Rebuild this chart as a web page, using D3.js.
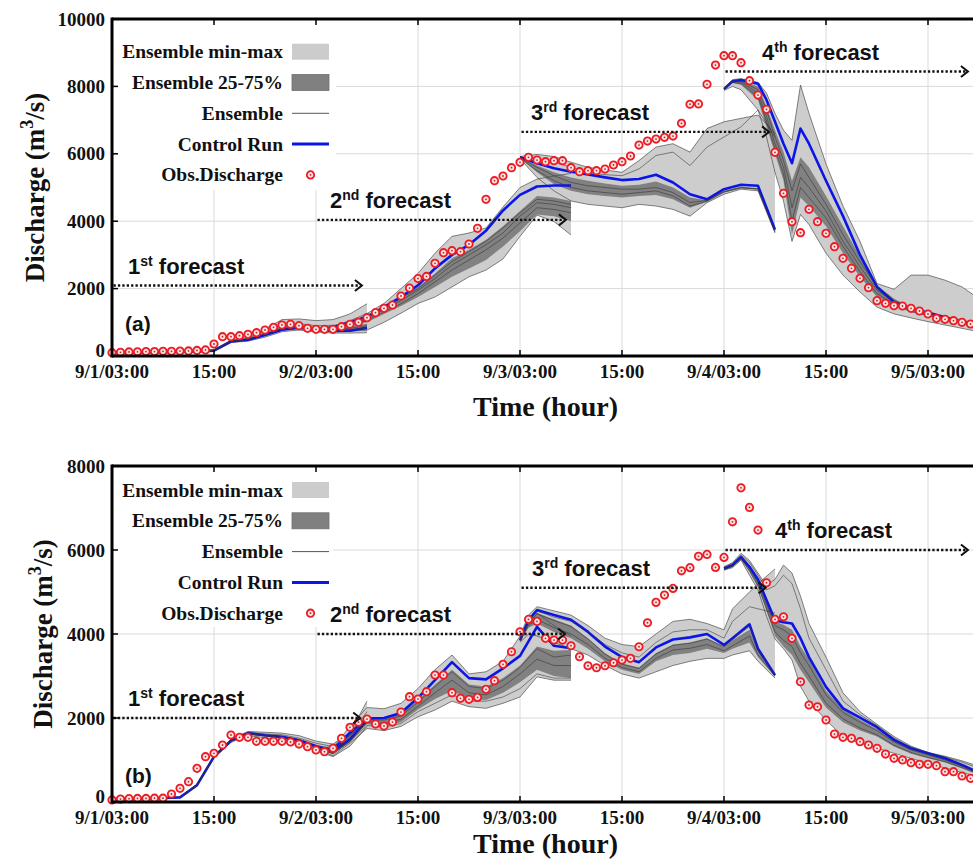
<!DOCTYPE html>
<html>
<head>
<meta charset="utf-8">
<script src="https://cdn.jsdelivr.net/npm/d3@7"></script>
<style>
  html, body { margin: 0; padding: 0; background: #fff; }
  svg { display: block; }
  .serif { font-family: "Liberation Serif", "Times New Roman", serif; font-weight: bold; }
  .sans { font-family: "Liberation Sans", Arial, sans-serif; font-weight: bold; }
</style>
</head>
<body>
<script>
// ---------- axes ----------
const xTickHours = [0, 12, 24, 36, 48, 60, 72, 84, 96];
const xTickLabels = ["9/1/03:00", "15:00", "9/2/03:00", "15:00", "9/3/03:00", "15:00", "9/4/03:00", "15:00", "9/5/03:00"];
const yTicksA = [0, 2000, 4000, 6000, 8000, 10000];
const yTicksB = [0, 2000, 4000, 6000, 8000];

// ---------- observed discharge, hourly from 9/1 03:00 ----------
const obsA = [100,110,120,125,130,130,140,140,145,150,165,180,
  356,573,573,603,643,692,771,850,920,940,900,821,
  791,791,791,870,940,999,1137,1286,1414,1513,1780,2017,
  2300,2360,2750,3066,3125,3095,3323,3788,4649,5202,5341,5587,
  5746,5895,5815,5766,5795,5795,5587,5469,5498,5498,5548,5667,
  5766,5934,6260,6379,6438,6488,6527,6903,7470,7480,8061,8634,
  8911,8911,8703,8169,7744,7319,6043,4827,3985,3659,4352,3985,
  3639,3244,2898,2601,2304,2027,1642,1562,1493,1483,1414,1335,
  1246,1117,1088,1048,999,949];
const obsB = [50,70,80,85,85,90,90,190,325,484,801,1079,
  1158,1357,1595,1539,1539,1444,1444,1444,1444,1428,1380,1317,
  1238,1198,1278,1516,1777,1900,1975,1856,1809,1904,2142,2507,
  2450,2626,3023,3023,2602,2468,2444,2491,2682,2888,3277,3577,
  4053,4348,4300,3896,3856,3856,3720,3458,3244,3196,3244,3316,
  3380,3420,3696,4268,4753,4927,5086,5505,5580,5850,5895,5586,
  5824,6671,7480,7014,6474,5220,4348,4410,3896,2863,2309,2268,
  1952,1618,1539,1515,1436,1357,1278,1142,1039,1000,936,897,
  897,865,722,722,619,563];

// ---------- panel (a) forecasts ----------
const a1Hours = [0,2,4,6,8,10,12,14,16,18,20,22,24,26,28,30];
const a1Ctrl = [100,100,105,110,120,135,160,430,480,620,780,840,770,740,750,840];
const a1Max  = [110,110,115,120,130,150,190,470,560,800,1080,1100,1050,1080,1250,1550];
const a1Q75  = [105,105,110,115,125,140,170,450,520,690,870,920,860,850,880,960];
const a1Q25  = [100,100,105,110,120,135,155,420,470,600,760,810,740,720,720,760];
const a1Min  = [95,95,100,105,115,130,150,400,440,560,720,770,710,680,680,690];
const a1Members = [
  [100,100,105,110,120,135,160,430,490,640,800,860,790,770,780,840],
  [100,100,105,110,120,140,165,440,500,660,830,880,810,800,820,900],
  [105,105,110,115,125,140,170,450,530,720,900,960,900,910,960,1060]];

const a2Hours = [24,26,28,30,32,34,36,38,40,42,44,46,48,50,52,54];
const a2Ctrl = [780,850,1000,1170,1450,1750,2100,2600,3000,3300,3720,4320,4780,5030,5060,5060];
const a2Max  = [800,880,1050,1260,1560,2000,2450,3050,3550,3650,3800,4420,5000,5250,5340,5420];
const a2Q75  = [790,860,1010,1200,1480,1800,2050,2450,2900,3150,3450,3850,4300,4750,4700,4600];
const a2Q25  = [770,800,900,1000,1250,1480,1750,2050,2350,2600,2850,3250,3700,4200,4150,4000];
const a2Min  = [760,760,780,770,1000,1270,1560,1750,2050,2350,2550,2880,3550,4180,3990,3590];
const a2Members = [
  [780,830,960,1100,1380,1650,1950,2300,2700,3000,3300,3650,4150,4550,4500,4400],
  [775,820,930,1050,1300,1550,1850,2200,2550,2850,3150,3500,3950,4400,4350,4250],
  [785,850,990,1150,1420,1720,2000,2400,2800,3100,3400,3800,4250,4650,4600,4500]];

const a3Hours = [48,50,52,54,56,58,60,62,64,66,68,70,72,74,76,78];
const a3Ctrl = [5900,5720,5570,5470,5390,5300,5220,5250,5380,5150,4800,4650,4950,5080,5050,3750];
const a3Max  = [5920,5980,5920,5750,5600,5520,5450,5800,6200,6300,6050,6750,6950,7050,7150,6600];
const a3Q75  = [5890,5650,5450,5300,5200,5120,5050,5080,5180,5000,4700,4620,4900,5020,4980,3720];
const a3Q25  = [5870,5450,5100,4900,4800,4750,4700,4750,4780,4650,4400,4580,4850,4980,4940,3690];
const a3Min  = [5850,5300,4900,4600,4500,4450,4400,4500,4450,4350,4150,4550,4800,4950,4900,3650];
const a3Members = [
  [5900,5850,5750,5600,5450,5380,5350,5550,5950,6050,5650,6200,6500,6800,7300,6500],
  [5880,5600,5350,5150,5050,5000,4950,4950,5000,4850,4550,4620,4880,5000,4960,3700],
  [5870,5500,5200,5000,4900,4850,4800,4850,4900,4750,4450,4590,4860,4990,4950,3695]];

const a4Hours = [72,73,74,76,77,78,79,80,81,82,84,86,88,90,92,94,96,98,100,102];
const a4Ctrl = [7920,8150,8190,8080,7600,6950,6300,5720,6750,6300,5200,4150,3000,2050,1600,1400,1290,1150,1000,900];
const a4Max  = [7960,8200,8230,8120,7800,7200,6700,6400,8040,7200,5700,4450,3400,2150,1980,2400,2400,2250,2050,1700];
const a4Q75  = [7940,8180,8180,8000,7400,6700,6050,5200,5900,5600,4750,3850,2950,2100,1700,1450,1300,1180,1080,950];
const a4Q25  = [7900,8100,8050,7600,6800,6000,5200,3600,4700,4450,3850,3050,2350,1750,1500,1300,1180,1080,990,880];
const a4Min  = [7880,8000,7900,7300,6500,5450,4600,3400,4200,3900,3050,2400,1900,1450,1250,1130,1020,920,820,720];
const a4Members = [
  [7930,8160,8150,7900,7300,6500,5800,4900,5700,5300,4500,3600,2800,2050,1650,1420,1280,1160,1060,940],
  [7910,8120,8080,7700,6950,6150,5400,4000,5000,4700,4100,3250,2500,1850,1550,1330,1200,1100,1000,890],
  [7920,8140,8120,7800,7100,6300,5600,4400,5300,5000,4300,3400,2650,1950,1600,1380,1240,1130,1030,910]];

// ---------- panel (b) forecasts ----------
const b1Hours = [0,2,4,6,8,10,12,14,16,18,20,22,24,26,28,30];
const b1Ctrl = [70,75,80,95,110,400,1080,1460,1640,1590,1550,1470,1330,1210,1500,1950];
const b1Max  = [75,80,85,100,115,430,1100,1500,1680,1660,1640,1580,1450,1380,1650,2400];
const b1Q75  = [72,77,82,97,112,410,1090,1480,1650,1610,1580,1500,1370,1270,1540,2050];
const b1Q25  = [68,73,78,93,108,390,1070,1440,1610,1560,1510,1420,1280,1140,1420,1880];
const b1Min  = [65,70,75,90,105,380,1050,1420,1580,1530,1470,1380,1220,1080,1330,1800];
const b1Members = [
  [70,75,80,95,110,400,1080,1470,1630,1580,1540,1450,1310,1180,1460,1920],
  [68,73,78,93,108,395,1075,1450,1620,1570,1520,1430,1290,1150,1440,1900],
  [72,77,82,97,112,405,1085,1480,1650,1620,1600,1520,1400,1320,1580,2150]];

const b2Hours = [24,26,28,30,32,34,36,38,40,42,44,46,48,50,52,54];
const b2Ctrl = [1300,1250,1650,1990,2000,2120,2480,2900,3330,2950,2920,3180,3480,4170,3720,3660];
const b2Max  = [1320,1300,1800,2250,2220,2350,2700,3150,3500,3050,3100,3350,3950,4500,4200,3950];
const b2Q75  = [1310,1240,1620,1980,1990,2100,2430,2800,3150,2800,2750,2950,3250,3700,3600,3620];
const b2Q25  = [1290,1170,1480,1850,1800,1900,2200,2450,2650,2450,2430,2600,2850,3150,3000,2950];
const b2Min  = [1280,1100,1400,1750,1700,1800,2030,2190,2400,2270,2230,2350,2500,2980,2900,2900];
const b2Members = [
  [1300,1220,1580,1950,1950,2050,2380,2750,3100,2750,2700,2900,3200,3650,3450,3500],
  [1295,1190,1520,1900,1870,1970,2280,2600,2900,2600,2550,2750,3050,3400,3250,3250],
  [1290,1150,1450,1820,1780,1870,2150,2350,2550,2400,2400,2500,2700,3050,2950,2950]];

const b3Hours = [48,49,50,52,54,56,58,60,62,64,66,68,70,72,73,75,76,78];
const b3Ctrl = [3850,4330,4570,4450,4340,4050,3700,3450,3330,3680,3870,3920,4000,3740,3900,4230,3650,3020];
const b3Max  = [3950,4450,4650,4550,4450,4200,3900,3750,3700,4000,4300,4350,4250,4100,4600,5000,5200,5550];
const b3Q75  = [3840,4300,4500,4350,4200,3900,3550,3300,3200,3550,3750,3800,3900,3700,3850,4100,3600,3010];
const b3Q25  = [3820,4150,4250,4050,3900,3650,3350,3150,3050,3350,3500,3550,3650,3550,3650,3800,3450,2990];
const b3Min  = [3800,4000,3950,3800,3650,3500,3250,3050,2950,3100,3250,3350,3420,3420,3500,3600,3350,2950];
const b3Members = [
  [3840,4280,4480,4320,4180,3880,3520,3280,3180,3520,3730,3780,3880,3700,3870,4180,3620,3020],
  [3830,4200,4350,4150,4000,3750,3420,3200,3100,3420,3620,3660,3750,3600,3720,3950,3500,3000],
  [3850,4300,4550,4400,4300,4050,3750,3550,3450,3800,4050,4100,4100,3900,4300,4650,4600,4500]];

const b4Hours = [72,73,74,75,76,77,78,79,80,81,82,84,86,88,90,92,94,96,98,100,102];
const b4Ctrl = [5560,5640,5830,5600,5300,4810,4330,4280,4250,3900,3450,2740,2230,2010,1780,1480,1280,1160,1040,880,700];
const b4Max  = [5600,5700,5920,5750,5450,5150,5300,5640,5450,4900,4250,3450,2600,2150,1850,1560,1330,1180,1090,980,850];
const b4Q75  = [5550,5630,5820,5580,5250,4750,4300,4220,4100,3700,3400,2650,2200,1960,1740,1460,1260,1140,1020,870,690];
const b4Q25  = [5530,5600,5780,5480,5120,4550,3950,3700,3500,3150,2850,2250,1900,1700,1560,1320,1150,1040,940,800,640];
const b4Min  = [5520,5580,5760,5400,5050,4420,3880,3650,3380,2750,2400,1950,1560,1400,1280,1160,1040,920,810,700,600];
const b4Members = [
  [5545,5620,5810,5550,5220,4700,4200,4100,3950,3550,3250,2550,2130,1900,1700,1430,1240,1120,1000,860,680],
  [5535,5610,5790,5500,5150,4600,4050,3850,3700,3300,3000,2350,1980,1760,1600,1350,1180,1060,960,820,660],
  [5580,5680,5880,5700,5400,5050,5150,5400,5200,4600,3900,3150,2400,2080,1820,1520,1300,1170,1070,950,800]];

// forecast run labels
const runNames = ["1", "2", "3", "4"];
const runSuffix = ["st", "nd", "rd", "th"];
const legendLabels = ["Ensemble min-max", "Ensemble 25-75%", "Ensemble", "Control Run", "Obs.Discharge"];

function forecast(hours, ctrl, max, q75, q25, min, members) {
  return { hours, ctrl, max, q75, q25, min, members };
}
const forecastsA = [
  forecast(a1Hours, a1Ctrl, a1Max, a1Q75, a1Q25, a1Min, a1Members),
  forecast(a2Hours, a2Ctrl, a2Max, a2Q75, a2Q25, a2Min, a2Members),
  forecast(a3Hours, a3Ctrl, a3Max, a3Q75, a3Q25, a3Min, a3Members),
  forecast(a4Hours, a4Ctrl, a4Max, a4Q75, a4Q25, a4Min, a4Members)];
const forecastsB = [
  forecast(b1Hours, b1Ctrl, b1Max, b1Q75, b1Q25, b1Min, b1Members),
  forecast(b2Hours, b2Ctrl, b2Max, b2Q75, b2Q25, b2Min, b2Members),
  forecast(b3Hours, b3Ctrl, b3Max, b3Q75, b3Q25, b3Min, b3Members),
  forecast(b4Hours, b4Ctrl, b4Max, b4Q75, b4Q25, b4Min, b4Members)];

// ---------- layout ----------
const W = 973, H = 866;
const LEFT = 112;
const COLORS = { light: "#cdcdcd", dark: "#818181", edge: "#4d4d4d", member: "#333", ctrl: "#0b16e6", obs: "#ec1c24" };

const panels = [
  { id: "a", top: 19, bottom: 356, yMax: 10000, yTicks: yTicksA, obs: obsA, runs: forecastsA, tag: "(a)",
    tagY: 331, tickLabelY: 378, titleY: 416, yTitleX: 43.5,
    legendRow0: 51.7, legendBox: [113, 20, 336, 190],
    arrowY: [2090, 4040, 6650, 8440], arrowLead: [29.4, 29.4, 29.3, 28.7], labelX: [128, 330, 531, 762] },
  { id: "b", top: 466, bottom: 802, yMax: 8000, yTicks: yTicksB, obs: obsB, runs: forecastsB, tag: "(b)",
    tagY: 783, tickLabelY: 824, titleY: 853, yTitleX: 52,
    legendRow0: 490, legendBox: [113, 467, 333, 627],
    arrowY: [2000, 4000, 5100, 6000], arrowLead: [29.2, 29.3, 28.9, 28.7], labelX: [128, 330, 532, 775] }
];

const svg = d3.select("body").append("svg").attr("width", W).attr("height", H);
const defs = svg.append("defs");
const x = d3.scaleLinear().domain([0, 102]).range([LEFT, LEFT + 102 * 8.5]);

function drawObsMarker(sel) {
  sel.append("circle").attr("r", 3.7).attr("fill", "#fde3e3").attr("stroke", COLORS.obs).attr("stroke-width", 1.8);
  sel.append("circle").attr("r", 0.9).attr("fill", "#b5282c");
}

panels.forEach(p => {
  const y = d3.scaleLinear().domain([0, p.yMax]).range([p.bottom, p.top]);
  const g = svg.append("g");
  const clipId = "plot-clip-" + p.id;
  defs.append("clipPath").attr("id", clipId).append("rect")
    .attr("x", LEFT).attr("y", p.top).attr("width", W - LEFT).attr("height", p.bottom - p.top);

  // grid
  const grid = g.append("g").attr("stroke", "#dadada").attr("stroke-width", 1);
  xTickHours.forEach(h => grid.append("line").attr("x1", x(h)).attr("x2", x(h)).attr("y1", p.top).attr("y2", p.bottom));
  p.yTicks.forEach(v => grid.append("line").attr("x1", LEFT).attr("x2", W).attr("y1", y(v)).attr("y2", y(v)));

  // legend background hides the grid behind it
  const [lx0, ly0, lx1, ly1] = p.legendBox;
  g.append("rect").attr("x", lx0).attr("y", ly0).attr("width", lx1 - lx0).attr("height", ly1 - ly0).attr("fill", "#fff");

  const plot = g.append("g").attr("clip-path", `url(#${clipId})`);
  const areaOf = (hours, lo, hi) => d3.area()
    .x((d, i) => x(hours[i])).y0((d, i) => y(lo[i])).y1((d, i) => y(hi[i]))(hours);
  const lineOf = (hours, vals) => d3.line().x((d, i) => x(hours[i])).y(d => y(d))(vals);

  p.runs.forEach(f => plot.append("path").attr("d", areaOf(f.hours, f.min, f.max)).attr("fill", COLORS.light));
  p.runs.forEach(f => plot.append("path").attr("d", areaOf(f.hours, f.q25, f.q75)).attr("fill", COLORS.dark));
  p.runs.forEach(f => [f.min, f.max].forEach(s => plot.append("path").attr("d", lineOf(f.hours, s))
    .attr("fill", "none").attr("stroke", COLORS.edge).attr("stroke-width", 0.7)));
  p.runs.forEach(f => plot.append("path").attr("d", lineOf(f.hours, f.ctrl))
    .attr("fill", "none").attr("stroke", COLORS.ctrl).attr("stroke-width", 2.6).attr("stroke-linejoin", "round"));
  // ensemble members sit on top of the control run, darkening it where they coincide
  p.runs.forEach(f => f.members.forEach(s => plot.append("path").attr("d", lineOf(f.hours, s))
    .attr("fill", "none").attr("stroke", COLORS.member).attr("stroke-width", 0.7).attr("opacity", 0.8)));

  // observations
  g.append("g").selectAll("g").data(p.obs).join("g")
    .attr("transform", (d, i) => `translate(${x(i)},${y(d)})`)
    .call(drawObsMarker);

  // forecast windows: dotted arrows with labels
  p.runs.forEach((f, k) => {
    const x0 = x(f.hours[0]) + 1.5;
    const x1 = x(f.hours[0] + p.arrowLead[k]);
    const ay = y(p.arrowY[k]);
    g.append("line").attr("x1", x0).attr("x2", x1 - 1).attr("y1", ay).attr("y2", ay)
      .attr("stroke", "#111").attr("stroke-width", 2.4).attr("stroke-dasharray", "2.3,2.1");
    g.append("path").attr("d", `M${x1 - 7},${ay - 5.5}L${x1},${ay}L${x1 - 7},${ay + 5.5}`)
      .attr("fill", "none").attr("stroke", "#111").attr("stroke-width", 2);
    const t = g.append("text").attr("class", "sans").attr("x", p.labelX[k]).attr("y", ay - 12)
      .attr("font-size", 22).attr("fill", "#111");
    t.append("tspan").text(runNames[k]);
    t.append("tspan").text(runSuffix[k]).attr("font-size", 14).attr("dy", -8);
    t.append("tspan").text(" forecast").attr("dy", 8);
  });

  // legend
  const rowGap = 30.8;
  const lg = g.append("g");
  legendLabels.forEach((lab, i) => {
    const ry = p.legendRow0 + i * rowGap;
    lg.append("text").attr("class", "serif").attr("x", 283).attr("y", ry + 6.5)
      .attr("text-anchor", "end").attr("font-size", 19.5).attr("fill", "#111").text(lab);
    if (i === 0) lg.append("rect").attr("x", 292).attr("y", ry - 8).attr("width", 37).attr("height", 16).attr("fill", "#cccccc");
    if (i === 1) lg.append("rect").attr("x", 292).attr("y", ry - 8).attr("width", 37).attr("height", 16)
      .attr("fill", "#808080").attr("stroke", "#6e6e6e").attr("stroke-width", 0.8);
    if (i === 2) lg.append("line").attr("x1", 292).attr("x2", 329).attr("y1", ry).attr("y2", ry)
      .attr("stroke", "#555").attr("stroke-width", 1);
    if (i === 3) lg.append("line").attr("x1", 292).attr("x2", 329).attr("y1", ry).attr("y2", ry)
      .attr("stroke", COLORS.ctrl).attr("stroke-width", 3);
    if (i === 4) lg.append("g").attr("transform", `translate(310.5,${ry})`).call(drawObsMarker);
  });

  // panel tag
  g.append("text").attr("class", "sans").attr("x", 125).attr("y", p.tagY).attr("font-size", 21).attr("fill", "#111").text(p.tag);

  // frame and ticks
  const frame = g.append("g").attr("stroke", "#000");
  frame.append("line").attr("x1", LEFT).attr("x2", LEFT).attr("y1", p.top - 1.5).attr("y2", p.bottom + 1.5).attr("stroke-width", 3);
  frame.append("line").attr("x1", LEFT).attr("x2", W).attr("y1", p.top).attr("y2", p.top).attr("stroke-width", 3);
  frame.append("line").attr("x1", LEFT).attr("x2", W).attr("y1", p.bottom).attr("y2", p.bottom).attr("stroke-width", 3);
  xTickHours.forEach(h => {
    frame.append("line").attr("x1", x(h)).attr("x2", x(h)).attr("y1", p.bottom).attr("y2", p.bottom - 6).attr("stroke-width", 1.5);
    frame.append("line").attr("x1", x(h)).attr("x2", x(h)).attr("y1", p.top).attr("y2", p.top + 6).attr("stroke-width", 1.5);
  });
  p.yTicks.forEach(v => frame.append("line").attr("x1", LEFT).attr("x2", LEFT + 6).attr("y1", y(v)).attr("y2", y(v)).attr("stroke-width", 1.5));

  // tick labels (the zero label is lifted slightly to clear the date labels below it)
  g.append("g").selectAll("text").data(xTickHours).join("text")
    .attr("class", "serif").attr("x", d => x(d)).attr("y", p.tickLabelY).attr("text-anchor", "middle")
    .attr("font-size", 19).attr("fill", "#111").text((d, i) => xTickLabels[i]);
  g.append("g").selectAll("text").data(p.yTicks).join("text")
    .attr("class", "serif").attr("x", 105).attr("y", d => y(d) + (d === 0 ? 1 : 6.5)).attr("text-anchor", "end")
    .attr("font-size", 19).attr("fill", "#111").text(d => d);

  // axis titles
  g.append("text").attr("class", "serif").attr("x", 545.5).attr("y", p.titleY).attr("text-anchor", "middle")
    .attr("font-size", 28).attr("fill", "#111").text("Time (hour)");
  const yt = g.append("text").attr("class", "serif").attr("text-anchor", "middle").attr("font-size", 27).attr("fill", "#111")
    .attr("transform", `translate(${p.yTitleX},${(p.top + p.bottom) / 2}) rotate(-90)`);
  yt.append("tspan").text("Discharge (m");
  yt.append("tspan").text("3").attr("font-size", 18).attr("dy", -11);
  yt.append("tspan").text("/s)").attr("dy", 11);
});
</script>
</body>
</html>
